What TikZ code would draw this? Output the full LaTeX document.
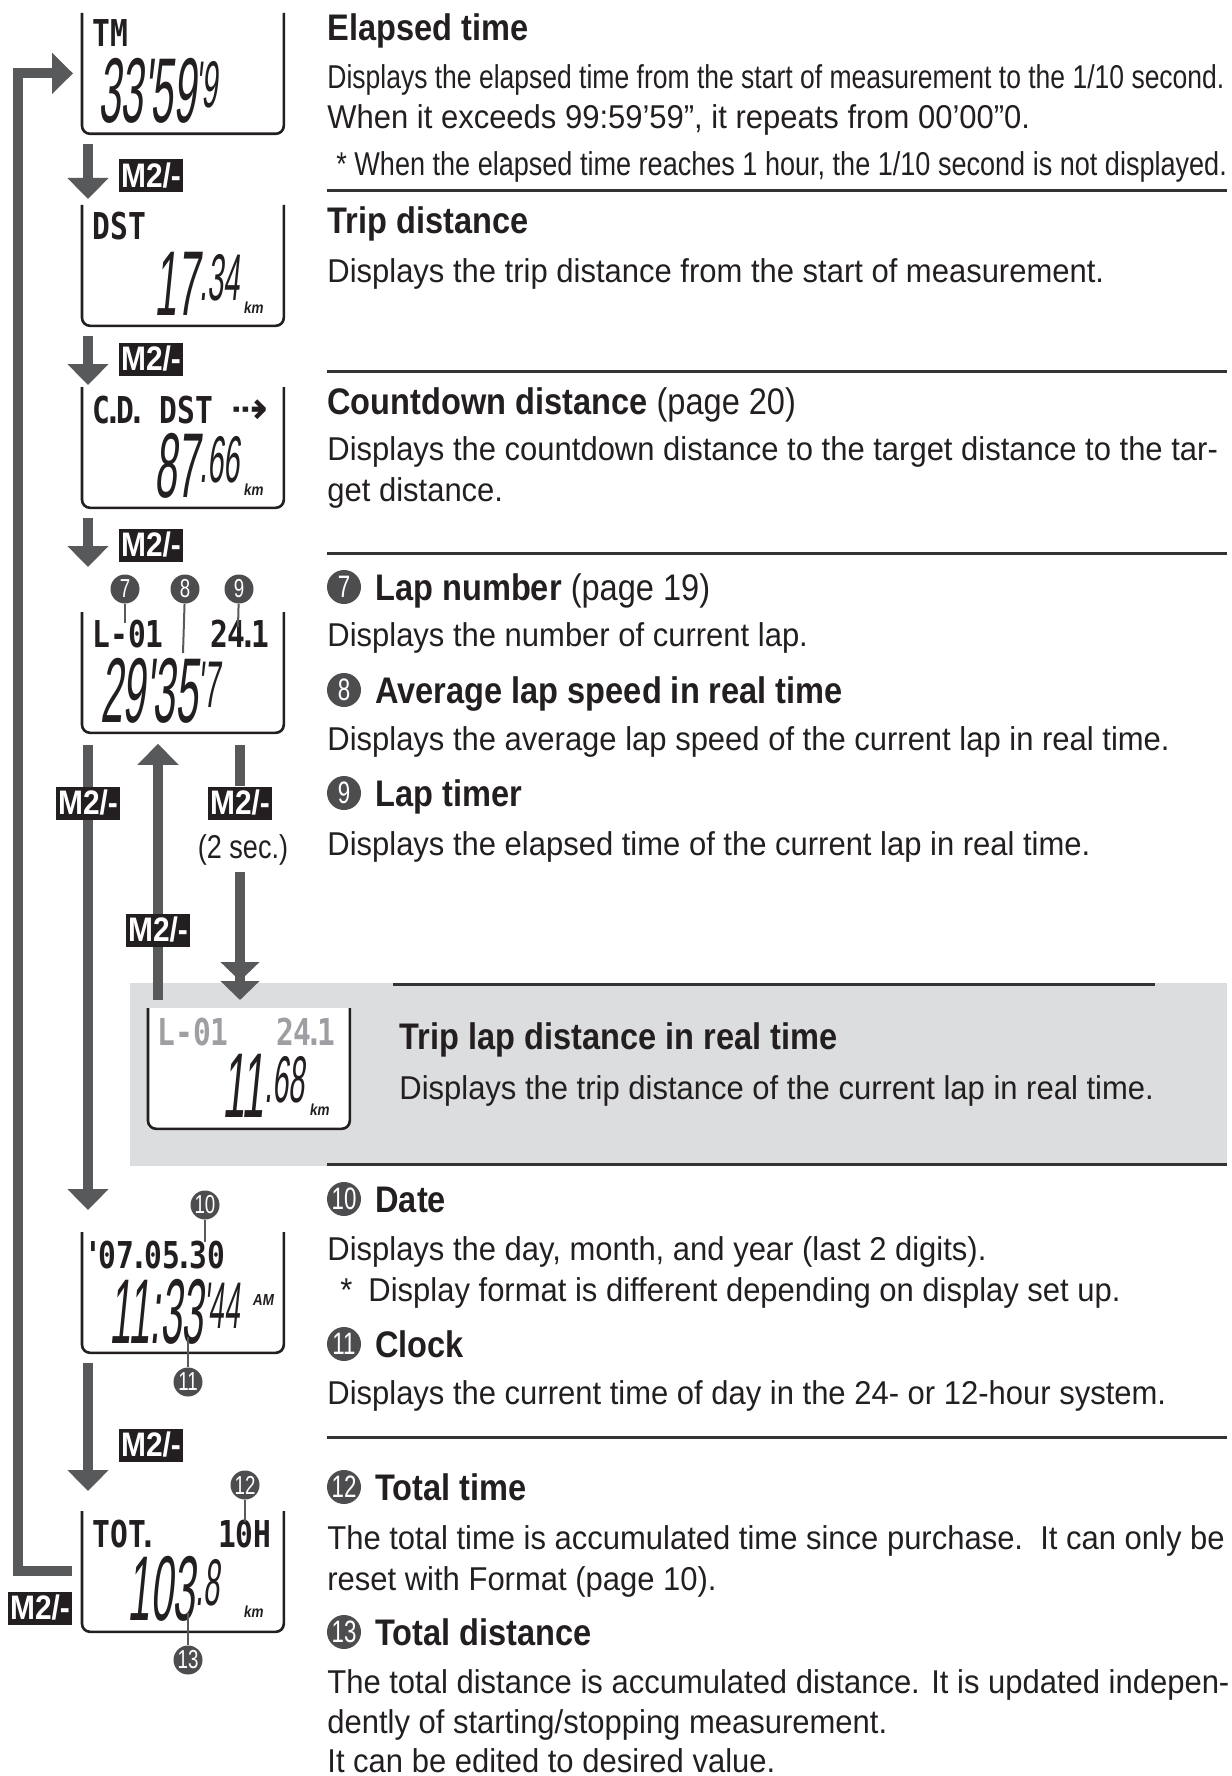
\documentclass[tikz,border=0pt]{standalone}
\usepackage{fontspec}
\usepackage{xcolor}
\usetikzlibrary{arrows.meta,calc,positioning}
\newfontfamily\bodyfont{Liberation Sans}[FakeStretch=0.939]
\newfontfamily\tightfont{Liberation Sans}[FakeStretch=0.803]
\newfontfamily\notefont{Liberation Sans}[FakeStretch=0.82]
\newfontfamily\headfont{Liberation Sans}[FakeStretch=0.88]
\newfontfamily\numfont{Liberation Sans}[FakeStretch=0.72]
\newfontfamily\segfont{Liberation Sans}[FakeStretch=0.44,FakeSlant=0.1]
\newfontfamily\segtight{Liberation Sans}[FakeStretch=0.42,FakeSlant=0.1]
\newfontfamily\unitfont{Liberation Sans}[FakeStretch=0.85,FakeSlant=0.15]
\newfontfamily\dotfont{DejaVu Sans Mono}[FakeStretch=0.8]
\newfontfamily\arrowfont{DejaVu Sans}
\definecolor{ink}{HTML}{231F20}
\definecolor{arrowgray}{HTML}{58595B}
\definecolor{keyblack}{HTML}{231F20}
\definecolor{circlegray}{HTML}{4D4D4F}
\definecolor{rulegray}{HTML}{333333}
\definecolor{bandgray}{HTML}{DCDDDE}
\definecolor{lcdgray}{HTML}{9D9FA2}

\begin{document}
\begin{tikzpicture}[x=0.5pt, y=-0.5pt,
    lcd/.style={fill=white, anchor=north west, minimum width=100.5pt, minimum height=60pt, inner sep=0pt},
    lcdframe/.style={draw=ink, line width=1.3pt, rounded corners=4pt},
    matrixtxt/.style={font=\dotfont\bfseries\fontsize{18.5}{18.5}\selectfont, text=ink, inner sep=0pt,
      anchor=base west, text height=13.5pt, text depth=0pt},
    digits/.style={font=\segfont\fontsize{46}{46}\selectfont, text=ink, inner sep=0pt, anchor=base east,
      text height=33pt, text depth=0pt},
    unittxt/.style={font=\unitfont\bfseries\fontsize{8}{8}\selectfont, text=ink, inner sep=0pt, anchor=base west},
    flow/.style={draw=arrowgray, line width=5pt, -{Triangle[width=20pt,length=10.5pt]}},
    flowline/.style={draw=arrowgray, line width=5pt},
    flowtwo/.style={draw=arrowgray, line width=5pt,
      -{Triangle[width=19pt,length=9.5pt,sep=0pt]Triangle[width=19pt,length=9.5pt]}},
    btn/.style={fill=keyblack, text=white, font=\headfont\bfseries\fontsize{17}{17}\selectfont,
      minimum width=32pt, minimum height=16.5pt, inner sep=0pt},
    cnum/.style={circle, fill=circlegray, text=white, minimum size=14.5pt, inner sep=0pt,
      font=\numfont\fontsize{13}{13}\selectfont},
    hnum/.style={circle, fill=circlegray, text=white, minimum size=17pt, inner sep=0pt,
      font=\numfont\fontsize{15.5}{15.5}\selectfont},
    leader/.style={draw=arrowgray, line width=1pt},
    hdr/.style={font=\headfont\bfseries\fontsize{18.5}{22}\selectfont, text=ink, inner sep=0pt, anchor=base west},
    txt/.style={font=\bodyfont\fontsize{16.5}{20}\selectfont, text=ink, inner sep=0pt, anchor=base west},
    divider/.style={draw=rulegray, line width=1.5pt},
  ]

  \def\readout#1#2{#1{\fontsize{33}{33}\selectfont\raisebox{7.5pt}{#2}}}
  \def\dt{\kern-.16em.\kern-.16em}
  \def\dd{\kern-.11em.\kern-.11em}

  \useasboundingbox (0,0) rectangle (1231,1776);

  % ---------- shaded band for the lap distance
  \fill[bandgray] (130,983) rectangle (1227,1166);

  % ---------- (1) elapsed time display
  \begin{scope}[shift={(82,13)}]
    \node[lcd] (d1) at (0,0) {};
    \draw[lcdframe] (d1.north west) |- (d1.south) -| (d1.north east);
    \node[matrixtxt] (d1top) at (10,34) {TM};
    \node[digits] (d1num) at (136,110) {\readout{33'59}{'9}};
  \end{scope}

  % ---------- (2) trip distance display
  \begin{scope}[shift={(82,205)}]
    \node[lcd] (d2) at (0,0) {};
    \draw[lcdframe] (d2.north west) |- (d2.south) -| (d2.north east);
    \node[matrixtxt] (d2top) at (10,35) {DST};
    \node[digits] (d2num) at (158,110) {\readout{17}{.34}};
    \node[unittxt] (d2unit) at (161,108) {km};
  \end{scope}

  % ---------- (3) countdown display
  \begin{scope}[shift={(82,387)}]
    \node[lcd] (d3) at (0,0) {};
    \draw[lcdframe] (d3.north west) |- (d3.south) -| (d3.north east);
    \node[matrixtxt] (d3top) at (10,36) {C\dt D\dt};
    \node[matrixtxt] (d3dst) at (77,36) {DST};
    \node[matrixtxt, font=\arrowfont\bfseries\fontsize{22}{22}\selectfont] (d3arr) at (149,36) {⇢};
    \node[digits] (d3num) at (158,110) {\readout{87}{.66}};
    \node[unittxt] (d3unit) at (161,108) {km};
  \end{scope}

  % ---------- (4) lap display with call-outs 7 8 9
  \begin{scope}[shift={(82,612)}]
    \node[lcd] (d4) at (0,0) {};
    \draw[lcdframe] (d4.north west) |- (d4.south) -| (d4.north east);
    \node[matrixtxt] (d4lap) at (10,35) {L-01};
    \node[matrixtxt, anchor=base east] (d4spd) at (188,35) {24\dt 1};
    \node[digits] (d4num) at (138,110) {\readout{29'35}{'7}};
    \node[cnum] (c7) at (43,-23) {7};
    \node[cnum] (c8) at (103,-23) {8};
    \node[cnum] (c9) at (157,-23) {9};
    \coordinate (p7) at (43,11);
    \coordinate (p8) at (101,41);
    \coordinate (p9) at (156,15);
    \draw[leader] (c7) -- (p7);
    \draw[leader] (c8) -- (p8);
    \draw[leader] (c9) -- (p9);
  \end{scope}

  % ---------- (5) lap distance display
  \begin{scope}[shift={(148,1008)}]
    \node[lcd] (d5) at (0,0) {};
    \draw[lcdframe] (d5.north west) |- (d5.south) -| (d5.north east);
    \node[matrixtxt, text=lcdgray] (d5lap) at (9,37) {L-01};
    \node[matrixtxt, text=lcdgray, anchor=base east] (d5spd) at (188,37) {24\dt 1};
    \node[digits] (d5num) at (157,109) {\readout{11}{.68}};
    \node[unittxt] (d5unit) at (161,107) {km};
  \end{scope}

  % ---------- (6) date and clock display
  \begin{scope}[shift={(82,1232)}]
    \node[lcd] (d6) at (0,0) {};
    \draw[lcdframe] (d6.north west) |- (d6.south) -| (d6.north east);
    \node[matrixtxt] (d6top) at (8,36) {\kern-.15em'\kern-.1em07\dd 05\dd 30};
    \node[digits, font=\segtight\fontsize{46}{46}\selectfont] (d6num) at (158,111) {\readout{11:33}{'44}};
    \node[unittxt] (d6unit) at (170,73) {AM};
    \node[cnum] (c10) at (123,-27) {10};
    \node[cnum] (c11) at (106,150) {11};
    \coordinate (p10) at (123,10);
    \coordinate (p11) at (106,105);
    \draw[leader] (c10) -- (p10);
    \draw[leader] (c11) -- (p11);
  \end{scope}

  % ---------- (7) total display with call-outs 12 13
  \begin{scope}[shift={(82,1511)}]
    \node[lcd] (d7) at (0,0) {};
    \draw[lcdframe] (d7.north west) |- (d7.south) -| (d7.north east);
    \node[matrixtxt] (d7top) at (10,36) {TOT\dt};
    \node[matrixtxt, anchor=base east] (d7hrs) at (190,36) {10H};
    \node[digits] (d7num) at (138,109) {\readout{103}{.8}};
    \node[unittxt] (d7unit) at (161,106) {km};
    \node[cnum] (c12) at (163,-26) {12};
    \node[cnum] (c13) at (106,149) {13};
    \coordinate (p12) at (163,11);
    \coordinate (p13) at (106,102);
    \draw[leader] (c12) -- (p12);
    \draw[leader] (c13) -- (p13);
  \end{scope}

  % ---------- button labels that sit beside or break a shaft
  \node[btn] (m1) at (151,176) {M2/-};
  \node[btn] (m2) at (151,359) {M2/-};
  \node[btn] (m3) at (151,545) {M2/-};
  \node[btn] (m4b) at (240,803) {M2/-};
  \node[txt, anchor=base, font=\notefont\fontsize{16.5}{20}\selectfont] (twosec) at (243,858) {(2 sec.)};
  \node[btn] (m6) at (151,1445) {M2/-};
  \node[btn] (m7) at (40,1608) {M2/-};
  \coordinate (s45) at (twosec.south -| m4b);

  % ---------- arrows
  \draw[flow] ($(d1.south west)+(6,10)$) -- ($(d2.north west)+(6,-6)$);
  \draw[flow] ($(d2.south west)+(6,10)$) -- ($(d3.north west)+(6,-2)$);
  \draw[flow] ($(d3.south west)+(6,10)$) -- ($(d4.north west)+(6,-45)$);
  \draw[flow] ($(d4.south west)+(6,12)$) -- ($(d6.north west)+(6,-22)$);
  \draw[flow] ($(d5.north west)+(10,-8)$) -- ($(d4.south west)+(76,11)$);
  \draw[flowline] ($(d4.south west)+(158,12)$) -- (m4b);
  \draw[flowtwo] ($(s45)+(0,7)$) -- ($(d5.north west)+(92,-8)$);
  \draw[flow] ($(d6.south west)+(6,10)$) -- ($(d7.north west)+(6,-20)$);
  \draw[flow] ($(d7.west)+(-10,0)$) -| ($(d1.west)+(-64,0)$) -- ($(d1.west)+(-9,0)$);

  % labels lying on top of a shaft
  \node[btn] (m4a) at (88,803) {M2/-};
  \node[btn] (m5) at (158,930) {M2/-};

  % ---------- right column: elapsed time
  \node[hdr] (tmhead) at (327,41) {Elapsed time};
  \node[txt, font=\tightfont\fontsize{16.5}{20}\selectfont] (tmline1) at (327,89)
    {Displays the elapsed time from the start of measurement to the 1/10 second.};
  \node[txt] (tmline2) at (327,129) {When it exceeds 99:59’59”, it repeats from 00’00”0.};
  \node[txt, font=\notefont\fontsize{16.5}{20}\selectfont] (tmnote) at (336,176)
    {* When the elapsed time reaches 1 hour, the 1/10 second is not displayed.};
  \draw[divider] (327,191) -- (1227,191);

  % ---------- trip distance
  \node[hdr] (dsthead) at (327,234) {Trip distance};
  \node[txt] (dstline) at (327,282) {Displays the trip distance from the start of measurement.};
  \draw[divider] (327,371) -- (1227,371);

  % ---------- countdown distance
  \node[hdr] (cdhead) at (327,414) {Countdown distance {\mdseries (page 20)}};
  \node[txt] (cdline1) at (327,460) {Displays the countdown distance to the target distance to the tar-};
  \node[txt] (cdline2) at (327,501) {get distance.};
  \draw[divider] (327,553) -- (1227,553);

  % ---------- lap items 7 8 9
  \node[hnum] (h7) at (344,587) {7};
  \node[hdr] (laphead) at (375,600) {Lap number {\mdseries (page 19)}};
  \node[txt] (lapline) at (327,646) {Displays the number of current lap.};
  \node[hnum] (h8) at (344,690) {8};
  \node[hdr] (avghead) at (375,703) {Average lap speed in real time};
  \node[txt] (avgline) at (327,750) {Displays the average lap speed of the current lap in real time.};
  \node[hnum] (h9) at (344,793) {9};
  \node[hdr] (lthead) at (375,806) {Lap timer};
  \node[txt] (ltline) at (327,855) {Displays the elapsed time of the current lap in real time.};

  % ---------- trip lap distance (shaded)
  \draw[divider] (393,984) -- (1155,984);
  \node[hdr] (tlhead) at (399,1049) {Trip lap distance in real time};
  \node[txt] (tlline) at (399,1099) {Displays the trip distance of the current lap in real time.};
  \draw[divider] (327,1164) -- (1227,1164);

  % ---------- date and clock 10 11
  \node[hnum] (h10) at (344,1199) {10};
  \node[hdr] (datehead) at (375,1212) {Date};
  \node[txt] (dateline) at (327,1260) {Displays the day, month, and year (last 2 digits).};
  \node[txt] (datenote) at (340,1301) {*\hspace{8pt}Display format is different depending on display set up.};
  \node[hnum] (h11) at (344,1344) {11};
  \node[hdr] (clkhead) at (375,1357) {Clock};
  \node[txt] (clkline) at (327,1404) {Displays the current time of day in the 24- or 12-hour system.};
  \draw[divider] (327,1437) -- (1227,1437);

  % ---------- totals 12 13
  \node[hnum] (h12) at (344,1487) {12};
  \node[hdr] (tothead) at (375,1500) {Total time};
  \node[txt] (totline1) at (327,1549) {The total time is accumulated time since purchase.\ \ It can only be};
  \node[txt] (totline2) at (327,1590) {reset with Format (page 10).};
  \node[hnum] (h13) at (344,1632) {13};
  \node[hdr] (tdhead) at (375,1645) {Total distance};
  \node[txt] (tdline1) at (327,1693) {The total distance is accumulated distance. It is updated indepen-};
  \node[txt] (tdline2) at (327,1733) {dently of starting/stopping measurement.};
  \node[txt] (tdline3) at (327,1772) {It can be edited to desired value.};

\end{tikzpicture}
\end{document}
